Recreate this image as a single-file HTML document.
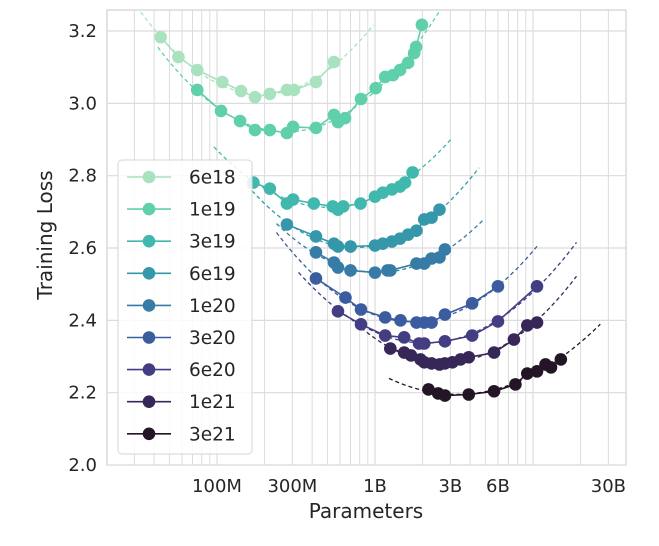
<!DOCTYPE html>
<html><head><meta charset="utf-8"><style>
html,body{margin:0;padding:0;background:#fff;}
svg text{font-family:"DejaVu Sans","Liberation Sans",sans-serif;fill:#262626;}
</style></head><body>
<svg id="chart" width="659" height="541" viewBox="0 0 659 541" xmlns="http://www.w3.org/2000/svg">
<g id="grid"></g>
<g id="fits"></g>
<g id="series"></g>
<g id="axes"></g>
<g id="legend"></g>
</svg>
<script>
const budgets = ["6e18","1e19","3e19","6e19","1e20","3e20","6e20","1e21","3e21"];
const colors = ["#a9e2bf","#5fcfac","#41b8ad","#3498aa","#367ca6","#3b5c9f","#433d82","#372757","#231426"];
// parameters in millions
const params6e18 = [44,57,75,108,142,174,216,277,307,423,550];
const loss6e18 = [3.183,3.128,3.092,3.059,3.034,3.017,3.026,3.037,3.037,3.059,3.114];
const params1e19 = [75,106,140,174,216,277,303,423,550,583,646,815,1010,1160,1300,1440,1620,1770,1820,1980];
const loss1e19 = [3.037,2.979,2.951,2.926,2.926,2.918,2.935,2.932,2.968,2.948,2.959,3.012,3.042,3.073,3.078,3.092,3.112,3.139,3.156,3.217];
const params3e19 = [170,216,277,303,410,540,583,630,810,1000,1120,1280,1440,1550,1730];
const loss3e19 = [2.781,2.764,2.723,2.734,2.723,2.715,2.706,2.715,2.723,2.742,2.753,2.762,2.770,2.781,2.809];
const params6e19 = [277,423,550,583,700,1000,1120,1280,1440,1620,1830,2050,2280,2560];
const loss6e19 = [2.665,2.632,2.612,2.604,2.604,2.607,2.612,2.618,2.626,2.637,2.648,2.679,2.684,2.706];
const params1e20 = [423,550,583,700,1000,1200,1250,1830,2050,2280,2560,2770];
const loss1e20 = [2.588,2.560,2.546,2.538,2.532,2.538,2.538,2.557,2.557,2.571,2.574,2.596];
const params3e20 = [423,650,815,1160,1450,1830,2050,2280,2770,4120,6000];
const loss3e20 = [2.516,2.463,2.430,2.408,2.400,2.394,2.394,2.394,2.416,2.447,2.494];
const params6e20 = [583,815,1160,1530,1900,2050,2770,4120,6000,10600];
const loss6e20 = [2.425,2.389,2.358,2.353,2.336,2.336,2.342,2.358,2.397,2.494];
const params1e21 = [1250,1530,1690,1940,2050,2280,2560,2770,3090,3480,3920,5670,7570,9200,10600];
const loss1e21 = [2.322,2.311,2.303,2.292,2.284,2.281,2.278,2.281,2.284,2.292,2.298,2.311,2.347,2.386,2.394];
const params3e21 = [2180,2510,2770,3920,5670,7740,9200,10600,12000,13000,15000];
const loss3e21 = [2.209,2.198,2.192,2.195,2.204,2.223,2.253,2.259,2.278,2.270,2.292];
const paramsAll = [params6e18,params1e19,params3e19,params6e19,params1e20,params3e20,params6e20,params1e21,params3e21];
const lossAll = [loss6e18,loss1e19,loss3e19,loss6e19,loss1e20,loss3e20,loss6e20,loss1e21,loss3e21];
const yTicks = [2.0,2.2,2.4,2.6,2.8,3.0,3.2];
const xTickVals = [100,300,1000,3000,6000,30000];
const xTickLabels = ["100M","300M","1B","3B","6B","30B"];

const NS="http://www.w3.org/2000/svg";
const L=107,R=626,T=10,B=465;
function xs(m){return 375+158*Math.log10(m/1000);}
function ys(v){return 31+(3.2-v)*361.7;}
function mk(tag,attrs,parent){const e=document.createElementNS(NS,tag);for(const k in attrs)e.setAttribute(k,attrs[k]);parent.appendChild(e);return e;}

const grid=document.getElementById('grid');
mk('rect',{x:L,y:T,width:R-L,height:B-T,fill:'#fff',stroke:'#d0d0d0','stroke-width':1.2},grid);
for(let e=7;e<=10;e++){for(let m=1;m<=9;m++){const v=m*Math.pow(10,e)/1e6;const x=xs(v);if(x<L+1||x>R-1)continue;
 const l=mk('line',{x1:x,x2:x,y1:T,y2:B,stroke:'#dcdcdc','stroke-width':m===1?1.2:1},grid);
 
 }}
const axes=document.getElementById('axes');
yTicks.forEach(v=>{const y=ys(v);
 const l=mk('line',{x1:L,x2:R,y1:y,y2:y,stroke:'#dcdcdc','stroke-width':1.2},grid);
 
 
 const t=mk('text',{x:97,y:y+6,'text-anchor':'end','font-size':18},axes);t.textContent=v.toFixed(1);
 
 });
xTickVals.forEach((v,i)=>{const t=mk('text',{x:xs(v),y:492,'text-anchor':'middle','font-size':18},axes);t.textContent=xTickLabels[i];
 
 });
let xt=mk('text',{x:366,y:518,'text-anchor':'middle','font-size':20},axes);xt.textContent='Parameters';


let yt=mk('text',{x:0,y:0,'text-anchor':'middle','font-size':20,transform:'translate(52,235) rotate(-90)'},axes);yt.textContent='Training Loss';



const defs=mk('defs',{},document.getElementById('chart'));
const cp=mk('clipPath',{id:'plotclip'},defs);mk('rect',{x:L,y:T,width:R-L,height:B-T},cp);
const fits=document.getElementById('fits');fits.setAttribute('clip-path','url(#plotclip)');
const series=document.getElementById('series');series.setAttribute('clip-path','url(#plotclip)');

function fitParabola(xv,yv){let n=xv.length,s=[0,0,0,0,0],t=[0,0,0];
 for(let i=0;i<n;i++){const x=xv[i],y=yv[i];let p=1;for(let k=0;k<5;k++){s[k]+=p;if(k<3)t[k]+=p*y;p*=x;}}
 const M=[[s[0],s[1],s[2],t[0]],[s[1],s[2],s[3],t[1]],[s[2],s[3],s[4],t[2]]];
 for(let i=0;i<3;i++){for(let j=i+1;j<3;j++){const f=M[j][i]/M[i][i];for(let k=i;k<4;k++)M[j][k]-=f*M[i][k];}}
 const c=[0,0,0];for(let i=2;i>=0;i--){let v=M[i][3];for(let k=i+1;k<3;k++)v-=M[i][k]*c[k];c[i]=v/M[i][i];}return c;}

budgets.forEach((b,si)=>{const P=paramsAll[si],Ls=lossAll[si],col=colors[si];
 const lx=P.map(p=>Math.log10(p));const c=fitParabola(lx,Ls);
 const x0=Math.min(...lx)-0.25,x1=Math.max(...lx)+0.25;let d='';
 for(let i=0;i<=80;i++){const u=x0+(x1-x0)*i/80;const v=c[0]+c[1]*u+c[2]*u*u;d+=(i?'L':'M')+xs(Math.pow(10,u)).toFixed(1)+','+ys(v).toFixed(1);}
 const f=mk('path',{d:d,fill:'none',stroke:col,'stroke-width':1.3,'stroke-dasharray':'4,3'},fits);
 
 
 const g=mk('g',{},series);
 
 
 const pts=P.map((p,i)=>xs(p).toFixed(1)+','+ys(Ls[i]).toFixed(1)).join(' ');
 const pl=mk('polyline',{points:pts,fill:'none',stroke:col,'stroke-width':1.6},g);
 
 
 P.forEach((p,i)=>{const ci=mk('circle',{cx:xs(p),cy:ys(Ls[i]),r:6.3,fill:col},g);
  
  });
});

const lg=document.getElementById('legend');
const box=mk('rect',{x:118,y:160,width:134,height:294,rx:4,fill:'#fff','fill-opacity':0.85,stroke:'#d6d6d6'},lg);


budgets.forEach((b,i)=>{const y=177+32.1*i;const g=mk('g',{},lg);
 
 
 mk('line',{x1:127,x2:171,y1:y,y2:y,stroke:colors[i],'stroke-width':1.6},g);
 mk('circle',{cx:149,cy:y,r:6.3,fill:colors[i]},g);
 const t=mk('text',{x:189,y:y+6.5,'font-size':18.5},g);t.textContent=b;});
</script>
</body></html>
